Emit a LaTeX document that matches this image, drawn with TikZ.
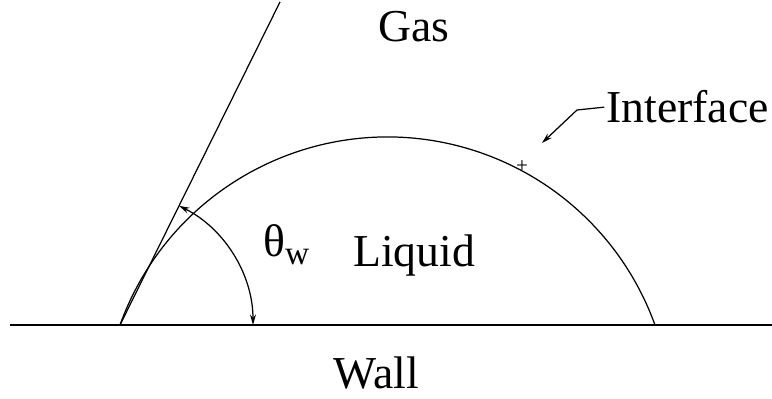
\documentclass[tikz,border=0pt]{standalone}
\usepackage{fontspec}
\setmainfont{Liberation Serif}
\usetikzlibrary{arrows.meta}

\begin{document}
\begin{tikzpicture}[x=0.02cm, y=0.02cm,
		lbl/.style={inner sep=0pt, font=\fontsize{26}{30}\selectfont},
		ln/.style={line width=0.7pt},
		tip/.style={-{Stealth[length=6pt,width=3.4pt]}}]
				\useasboundingbox (0,0) rectangle (772,399);
				
				% wall
				\coordinate (wl) at (10,74);
				\coordinate (wr) at (772,74);
				\coordinate (A) at (120,74);
				\draw[ln] (wl) -- (wr);
				\draw[line width=1pt] (197,74) -- (297,74);
				\node[lbl, anchor=base] (wall) at (376.5,10){Wall};
				
				% interface (droplet)
				\draw[ln] (A) arc[start angle=160.2, end angle=19.8, radius=284.3] coordinate (B);
				\node[inner sep=0pt, font=\fontsize{12}{12}\selectfont] (plus) at (522,232){+};
				\node[lbl, anchor=base west] (iface) at (606,276){Interface};
				\coordinate (bend) at (577,289);
				\coordinate (itip) at (542,256);
				\draw[ln, tip] ([xshift=-1pt]iface.west) -- (bend) -- (itip);
				
				% tangent line and contact angle
				\coordinate (T) at (280,397);
				\draw[ln] (A) -- (T);
				\coordinate (a0) at (253,74);
				\draw[ln, {Stealth[length=6pt,width=3.4pt]}-{Stealth[length=6pt,width=3.4pt]}] (a0) arc[start angle=0, end angle=63.65, radius=133];
				\node[lbl, anchor=base west] (theta) at (263,142){θ\raisebox{-4pt}{\fontsize{19}{20}\selectfont w}};
				
				% phases
				\node[lbl, anchor=base] (gas) at (414,357){Gas};
				\node[lbl, anchor=base] (liquid) at (414,132){Liquid};
			
			\end{tikzpicture}
\end{document}
